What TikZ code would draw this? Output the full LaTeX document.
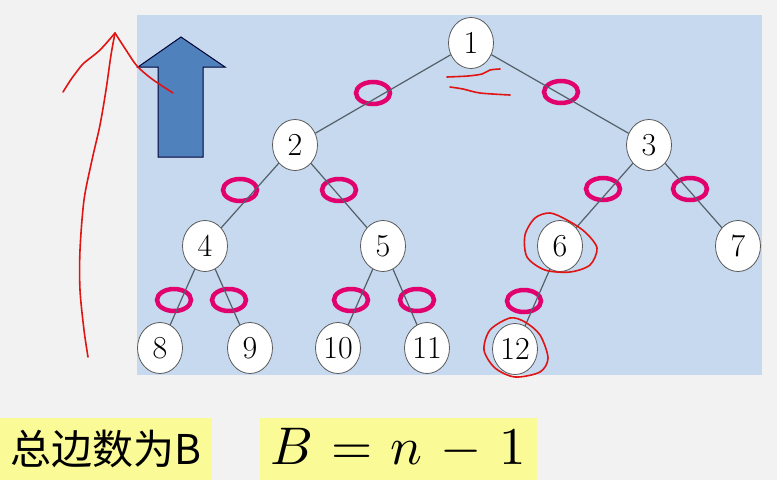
\documentclass[tikz,border=0pt]{standalone}
\usepackage{fontspec}
\newfontfamily\cjk{Noto Sans CJK SC}
\usetikzlibrary{shapes.geometric}
\definecolor{bgc}{RGB}{242,242,242}
\definecolor{panelc}{RGB}{198,217,239}
\definecolor{pinkc}{RGB}{226,0,110}
\definecolor{arrowblue}{RGB}{79,129,189}
\definecolor{hl}{RGB}{250,250,150}
\definecolor{edgec}{RGB}{85,95,105}
\definecolor{pen}{RGB}{225,20,20}
\begin{document}
\begin{tikzpicture}[x=1pt,y=-1pt,
  tnode/.style={ellipse, draw=gray!70!black, fill=white, line width=0.8pt,
    minimum width=45pt, minimum height=51pt, inner sep=0pt,
    font=\fontsize{32}{32}\selectfont},
  pinkring/.style={ellipse, draw=pinkc, line width=4.5pt,
    minimum width=34pt, minimum height=22pt, inner sep=0pt},
  tedge/.style={draw=edgec, line width=1.2pt},
  ink/.style={draw=pen, line width=1.6pt, line cap=round, line join=round},
  hlbox/.style={fill=hl, inner sep=0pt}
]
\useasboundingbox (0,0) rectangle (777,480);
\fill[bgc] (0,0) rectangle (777,480);
\fill[panelc] (137,15) rectangle (762,375);

% blue block arrow
\filldraw[fill=arrowblue, draw=black!80!blue, line width=1pt]
  (181,37) -- (225,67) -- (203,67) -- (203,157) -- (158,157) -- (158,67) -- (138,67) -- cycle;

% tree nodes
\node[tnode] (n1) at (471,43) {1};
\node[tnode] (n2) at (295,145) {2};
\node[tnode] (n3) at (649,145) {3};
\node[tnode] (n4) at (205,246) {4};
\node[tnode] (n5) at (383,246) {5};
\node[tnode] (n6) at (560,246) {6};
\node[tnode] (n7) at (738,246) {7};
\node[tnode] (n8) at (160,348) {8};
\node[tnode] (n9) at (250,348) {9};
\node[tnode] (n10) at (338,348) {10};
\node[tnode] (n11) at (427,348) {11};
\node[tnode] (n12) at (515,349) {12};

% pink rings on the edges
\node[pinkring] (r12) at (373,93) {};
\node[pinkring] (r13) at (561,92) {};
\node[pinkring] (r24) at (240,190) {};
\node[pinkring] (r25) at (339,190) {};
\node[pinkring] (r36) at (603,189) {};
\node[pinkring] (r37) at (690,189) {};
\node[pinkring] (r48) at (174,300) {};
\node[pinkring] (r49) at (229,300) {};
\node[pinkring] (r510) at (351,300) {};
\node[pinkring] (r511) at (417,300) {};
\node[pinkring] (r612) at (524,301) {};

% edges
\draw[tedge] (n1) -- (n2);
\draw[tedge] (n1) -- (n3);
\draw[tedge] (n2) -- (n4);
\draw[tedge] (n2) -- (n5);
\draw[tedge] (n3) -- (n6);
\draw[tedge] (n3) -- (n7);
\draw[tedge] (n4) -- (n8);
\draw[tedge] (n4) -- (n9);
\draw[tedge] (n5) -- (n10);
\draw[tedge] (n5) -- (n11);
\draw[tedge] (n6) -- (n12);

% handwritten red strokes
\draw[ink] plot[smooth] coordinates {(88,357) (84,330) (80,290) (80,250) (84,200) (92,160) (100,125) (106,90) (111,55) (115,33)};
\draw[ink] plot[smooth] coordinates {(115,33) (100,50) (84,63) (78,70) (72,78) (68,84) (63,92)};
\draw[ink] plot[smooth] coordinates {(115,33) (126,50) (137,66) (152,79) (173,93)};
\draw[ink] plot[smooth] coordinates {(447,77) (468,76) (482,74) (490,70) (500,69)};
\draw[ink] plot[smooth] coordinates {(450,87) (463,89) (480,93) (510,95)};
\draw[ink] plot[smooth cycle] coordinates {(527,257) (525,235) (535,218) (550,213) (567,220) (585,232) (597,248) (590,265) (570,272) (545,270)};
\draw[ink] plot[smooth cycle] coordinates {(510,318) (490,330) (484,350) (495,368) (515,377) (540,372) (548,358) (540,335) (525,322)};

% bottom labels
\node[hlbox, minimum width=212pt, minimum height=62pt] (t1) at (106,449)
  {\cjk\fontsize{41}{41}\selectfont 总边数为B};
\node[hlbox, minimum width=277pt, minimum height=62pt] (t2) at (398.5,449)
  {\scalebox{5.3}{$B\hspace{3.4pt}{=}\hspace{3.4pt}n\hspace{3.4pt}{-}\hspace{3.4pt}1$}};
\end{tikzpicture}
\end{document}
